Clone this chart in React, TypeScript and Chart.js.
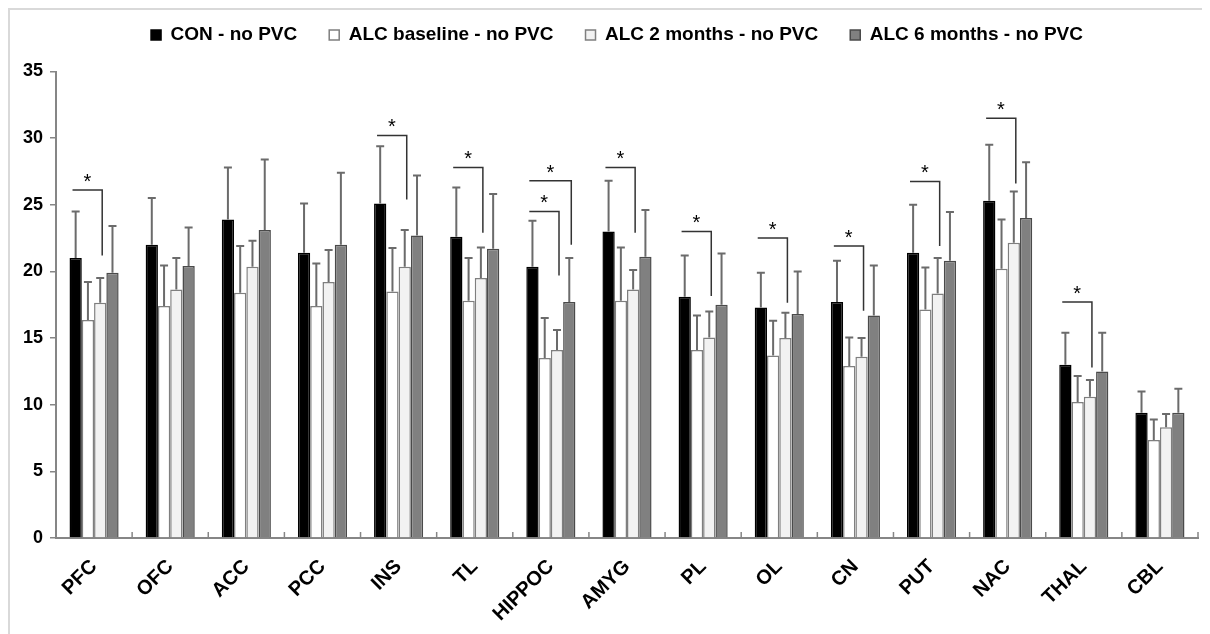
import React, { useEffect, useRef } from "react";
import { Chart, registerables } from "chart.js";

Chart.register(...registerables);

const categories = ["PFC", "OFC", "ACC", "PCC", "INS", "TL", "HIPPOC", "AMYG", "PL", "OL", "CN", "PUT", "NAC", "THAL", "CBL"];

const seriesLabels = ["CON - no PVC", "ALC baseline - no PVC", "ALC 2 months - no PVC", "ALC 6 months - no PVC"];

const conValues = [21.0, 22.0, 23.9, 21.4, 25.1, 22.6, 20.35, 23.0, 18.1, 17.3, 17.7, 21.4, 25.3, 13.0, 9.4];
const conErrors = [3.5, 3.5, 3.9, 3.7, 4.3, 3.7, 3.45, 3.8, 3.1, 2.6, 3.1, 3.6, 4.2, 2.4, 1.6];

const baselineValues = [16.35, 17.4, 18.4, 17.4, 18.5, 17.8, 13.5, 17.8, 14.1, 13.7, 12.9, 17.15, 20.2, 10.2, 7.35];
const baselineErrors = [2.85, 3.05, 3.5, 3.2, 3.25, 3.2, 3.0, 4.0, 2.6, 2.6, 2.15, 3.15, 3.7, 1.95, 1.55];

const twoMonthValues = [17.65, 18.65, 20.35, 19.2, 20.35, 19.5, 14.1, 18.65, 15.05, 15.0, 13.6, 18.35, 22.15, 10.6, 8.3];
const twoMonthErrors = [1.85, 2.35, 1.95, 2.4, 2.75, 2.3, 1.5, 1.45, 1.95, 1.9, 1.4, 2.65, 3.85, 1.25, 1.0];

const sixMonthValues = [19.9, 20.4, 23.1, 22.0, 22.7, 21.7, 17.7, 21.1, 17.5, 16.8, 16.7, 20.8, 24.0, 12.5, 9.4];
const sixMonthErrors = [3.5, 2.9, 5.3, 5.4, 4.5, 4.1, 3.3, 3.5, 3.85, 3.2, 3.75, 3.65, 4.2, 2.9, 1.8];

const yTicks = [0, 5, 10, 15, 20, 25, 30, 35];

// significance brackets: category index, target series index, top of bracket, bottom of vertical leg
const sigCategory = [0, 4, 5, 6, 6, 7, 8, 9, 10, 11, 12, 13];
const sigTarget = [2, 2, 2, 3, 2, 2, 2, 2, 2, 2, 2, 2];
const sigTop = [26.1, 30.2, 27.8, 26.8, 24.5, 27.8, 23.0, 22.5, 21.9, 26.75, 31.5, 17.7];
const sigBottom = [21.2, 25.4, 22.9, 22.0, 19.7, 22.9, 18.15, 17.65, 17.05, 21.9, 26.6, 12.8];

const allValues = [conValues, baselineValues, twoMonthValues, sixMonthValues];
const allErrors = [conErrors, baselineErrors, twoMonthErrors, sixMonthErrors];
const fills = ["#000000", "#ffffff", "#f2f2f2", "#808080"];
const borders = ["#000000", "#7f7f7f", "#7f7f7f", "#4a4a4a"];

const FONT = "'Liberation Sans', Arial, sans-serif";
const AXIS = "#868686";

const legendShiftPlugin = {
  id: "legendShift",
  afterLayout(chart: any) {
    const lg = chart.legend;
    if (lg) {
      lg.top -= 17;
      lg.bottom -= 17;
      lg.left += 13;
      lg.right += 13;
    }
  },
};

const overlayPlugin = {
  id: "overlay",
  afterDatasetsDraw(chart: any) {
    const ctx = chart.ctx as CanvasRenderingContext2D;
    const ys = chart.scales.y;
    const xs = chart.scales.x;
    ctx.save();
    // error bars
    ctx.strokeStyle = "#6b6b6b";
    ctx.lineWidth = 2;
    allErrors.forEach((errs, d) => {
      const meta = chart.getDatasetMeta(d);
      meta.data.forEach((bar: any, i: number) => {
        const v = allValues[d][i];
        const yv = ys.getPixelForValue(v);
        const ye = ys.getPixelForValue(v + errs[i]);
        ctx.beginPath();
        ctx.moveTo(bar.x, yv);
        ctx.lineTo(bar.x, ye);
        ctx.moveTo(bar.x - 4, ye);
        ctx.lineTo(bar.x + 4, ye);
        ctx.stroke();
      });
    });
    // x-axis inward ticks at category boundaries
    ctx.strokeStyle = AXIS;
    ctx.lineWidth = 1.5;
    const n = categories.length;
    for (let i = 0; i <= n; i++) {
      const x = xs.left + (i * (xs.right - xs.left)) / n;
      ctx.beginPath();
      ctx.moveTo(x, ys.bottom);
      ctx.lineTo(x, ys.bottom - 6);
      ctx.stroke();
    }
    // significance brackets
    ctx.strokeStyle = "#333333";
    ctx.lineWidth = 1.5;
    ctx.fillStyle = "#000";
    ctx.font = `20px ${FONT}`;
    ctx.textAlign = "center";
    ctx.textBaseline = "alphabetic";
    sigCategory.forEach((c, k) => {
      const b0: any = chart.getDatasetMeta(0).data[c];
      const bt: any = chart.getDatasetMeta(sigTarget[k]).data[c];
      const xl = b0.x - b0.width / 2 + 3;
      const xr = bt.x + 2;
      const yt = ys.getPixelForValue(sigTop[k]);
      const yb = ys.getPixelForValue(sigBottom[k]);
      ctx.beginPath();
      ctx.moveTo(xl, yt);
      ctx.lineTo(xr, yt);
      ctx.lineTo(xr, yb);
      ctx.stroke();
      ctx.fillText("*", (xl + xr) / 2, yt - 2);
    });
    ctx.restore();
  },
};

export default function App() {
  const ref = useRef<HTMLCanvasElement>(null);
  useEffect(() => {
    document.body.style.overflow = "hidden";
    if (!ref.current) return;
    Chart.defaults.font.family = FONT;
    Chart.defaults.color = "#000";
    const chart = new Chart(ref.current, {
      type: "bar",
      data: {
        labels: categories,
        datasets: seriesLabels.map((label, d) => ({
          label,
          data: allValues[d],
          backgroundColor: fills[d],
          borderColor: borders[d],
          borderWidth: 1.5,
          barPercentage: 1,
          categoryPercentage: 0.645,
        })),
      },
      options: {
        responsive: false,
        animation: false,
        layout: { padding: { top: 0.5, right: 12, left: 0, bottom: 0 } },
        plugins: {
          tooltip: { enabled: false },
          legend: {
            position: "top",
            labels: {
              boxWidth: 10,
              boxHeight: 10,
              padding: 32,
              color: "#000",
              font: { size: 19, weight: "bold", family: FONT },
            },
          },
        },
        scales: {
          x: {
            grid: { display: false },
            border: { display: true, color: AXIS, width: 2 },
            ticks: {
              maxRotation: 45,
              minRotation: 45,
              padding: 9,
              color: "#000",
              font: { size: 20, weight: "bold", family: FONT },
            },
            afterFit(scale: any) {
              scale.height = 96;
            },
          },
          y: {
            min: 0,
            max: 35,
            afterBuildTicks(scale: any) {
              scale.ticks = yTicks.map((v) => ({ value: v }));
            },
            grid: { drawOnChartArea: false, drawTicks: true, tickLength: 6, color: AXIS, lineWidth: 1.5 },
            border: { display: true, color: AXIS, width: 2 },
            ticks: {
              padding: 7,
              color: "#000",
              font: { size: 18, weight: "bold", family: FONT },
            },
            afterFit(scale: any) {
              scale.width = 46;
            },
          },
        },
      },
      plugins: [legendShiftPlugin, overlayPlugin],
    });
    return () => chart.destroy();
  }, []);
  return (
    <div
      style={{
        width: 1210,
        height: 626,
        borderTop: "2px solid #d9d9d9",
        borderLeft: "2px solid #d9d9d9",
        boxSizing: "border-box",
        background: "#fff",
      }}
    >
      <canvas ref={ref} width={1200} height={624} style={{ display: "block" }} />
    </div>
  );
}
